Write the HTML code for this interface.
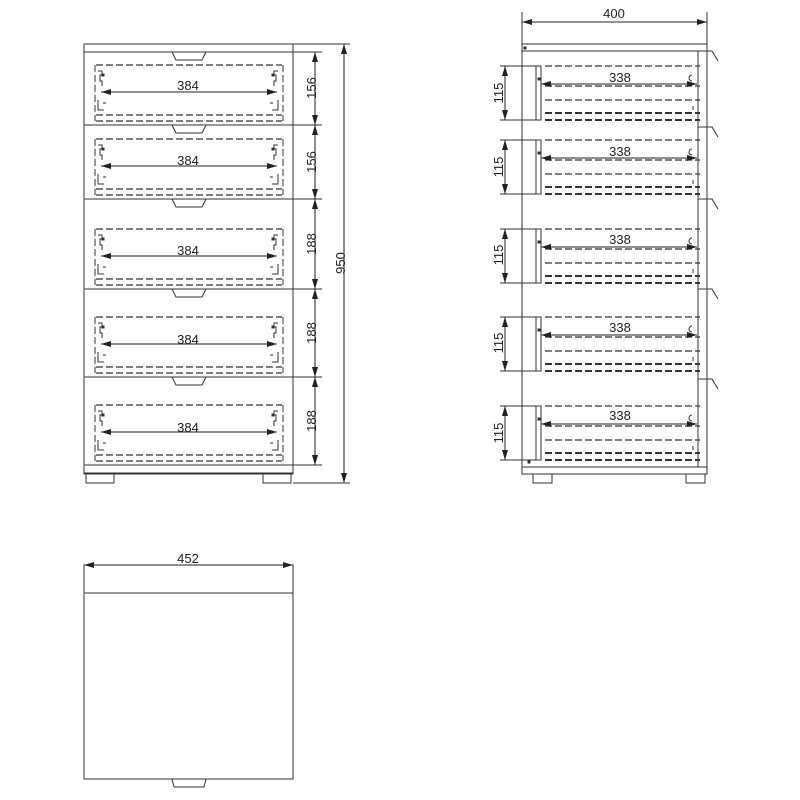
<!DOCTYPE html>
<html><head><meta charset="utf-8"><style>
html,body{margin:0;padding:0;background:#fff;width:800px;height:800px;overflow:hidden}
text{font-family:"Liberation Sans",sans-serif;font-size:13px;fill:#222}
</style></head><body>
<svg id="s" width="800" height="800" viewBox="0 0 800 800" xmlns="http://www.w3.org/2000/svg">
<defs>
<marker id="a" viewBox="0 0 10 6" refX="10" refY="3" markerWidth="10" markerHeight="6" markerUnits="userSpaceOnUse" orient="auto-start-reverse"><path d="M0,0L10,3L0,6z" fill="#222"/></marker>
</defs>
<g id="g" stroke="#333" stroke-width="1" fill="none"></g>
<!-- front texts -->
<text x="188" y="90" text-anchor="middle">384</text>
<text x="188" y="165" text-anchor="middle">384</text>
<text x="188" y="255" text-anchor="middle">384</text>
<text x="188" y="344" text-anchor="middle">384</text>
<text x="188" y="432" text-anchor="middle">384</text>
<text transform="translate(316,88) rotate(-90)" text-anchor="middle">156</text>
<text transform="translate(316,162) rotate(-90)" text-anchor="middle">156</text>
<text transform="translate(316,244) rotate(-90)" text-anchor="middle">188</text>
<text transform="translate(316,333) rotate(-90)" text-anchor="middle">188</text>
<text transform="translate(316,421) rotate(-90)" text-anchor="middle">188</text>
<text transform="translate(345,263) rotate(-90)" text-anchor="middle">950</text>
<!-- side texts -->
<text x="614" y="18" text-anchor="middle">400</text>
<text x="620" y="82" text-anchor="middle">338</text>
<text x="620" y="156" text-anchor="middle">338</text>
<text x="620" y="244" text-anchor="middle">338</text>
<text x="620" y="332" text-anchor="middle">338</text>
<text x="620" y="420" text-anchor="middle">338</text>
<text transform="translate(503,93) rotate(-90)" text-anchor="middle">115</text>
<text transform="translate(503,167) rotate(-90)" text-anchor="middle">115</text>
<text transform="translate(503,255) rotate(-90)" text-anchor="middle">115</text>
<text transform="translate(503,343) rotate(-90)" text-anchor="middle">115</text>
<text transform="translate(503,433) rotate(-90)" text-anchor="middle">115</text>
<!-- plan -->
<text x="188" y="563" text-anchor="middle">452</text>
</svg>
<script>
var g=document.getElementById('g'),NS='http://www.w3.org/2000/svg';
function el(t,a){var e=document.createElementNS(NS,t);for(var k in a)e.setAttribute(k,a[k]);g.appendChild(e);return e;}
function L(x1,y1,x2,y2,o){var a={x1:x1,y1:y1,x2:x2,y2:y2};for(var k in o)a[k]=o[k];return el('line',a);}
function D(x1,y1,x2,y2,w){return L(x1,y1,x2,y2,{'stroke-dasharray':'7,3','stroke-width':w||1.2});}
function arr(x1,y1,x2,y2){return L(x1,y1,x2,y2,{'marker-start':'url(#a)','marker-end':'url(#a)','stroke':'#222'});}
function R(x,y,w,h){return el('rect',{x:x,y:y,width:w,height:h});}
// FRONT
R(84,44,209,430);L(84,52,293,52);
var fb=[52,125,199,289,377,465];
for(var i=0;i<5;i++){var T=fb[i],B=fb[i+1];L(84,B,293,B);
 el('path',{d:'M172,'+T+' L206,'+T+' L202,'+(T+8)+' L176,'+(T+8)+' Z'});
 var t=B-60;D(96,t,282,t);D(96,B-10,282,B-10);D(96,B-4,282,B-4);
 D(95,t,95,B-4,1);D(283,t,283,B-4,1);
 [[98,1],[278,-1]].forEach(function(p){var x=p[0],s=p[1];
  el('path',{d:'M'+x+','+(t+6)+' h'+(4*s)+' v4 h'+(-2*s)+' v6 h'+(2*s)+' v5 M'+x+','+(B-25)+' v10 h'+(6*s)+' M'+(x+5*s)+','+(B-22)+' h'+(3*s)});
  el('rect',{x:x+(s>0?4:-6),y:t+9,width:2,height:2,fill:'#222'});});
 arr(101,B-33,277,B-33);
}
L(84,465,293,465);L(84,473,293,473);
R(86,473,28,10);R(263,473,28,10);
for(i=0;i<6;i++)L(293,fb[i],322,fb[i]);
for(i=0;i<5;i++)arr(315,fb[i],315,fb[i+1]);
L(293,44,350,44);L(293,483,350,483);arr(344,44,344,483);
// SIDE
R(522,44,185,430);L(522,51,707,51);L(522,467,707,467);
R(533,474,19,9);R(686,474,19,9);
L(522,44,522,12);L(707,44,707,12);arr(522,22,707,22);
L(698,51,698,467);
var hk=[51,127,199,289,379];
hk.forEach(function(y){L(698,y,707,y);el('path',{d:'M707,'+y+' h5 l6,10'});});
L(698,467,707,467);
var sd=[66,140,229,317,406];
sd.forEach(function(S){var E=S+54;
 L(500,S,537,S);L(500,E,537,E);arr(505,S,505,E);
 R(536,S,5,54);
 D(545,S,700,S);D(545,S+20,700,S+20);D(545,S+34,700,S+34);D(545,S+47,700,S+47,2);D(545,E,700,E,2);
 arr(541,S+18,697,S+18);
 el('path',{d:'M692,'+(S+9)+' a3,3 0 1 0 0,6 M693,'+(S+40)+' v4'});
 el('rect',{x:538,y:S+12,width:2,height:2,fill:'#222'});
});
el('rect',{x:524,y:47,width:2,height:2,fill:'#222'});
el('rect',{x:528,y:461,width:2,height:2,fill:'#222'});
// PLAN
R(84,565,209,214);L(84,593,293,593);arr(84,565,293,565);
el('path',{d:'M172,779 L206,779 L204,787 L174,787 Z'});
</script>
</body></html>
